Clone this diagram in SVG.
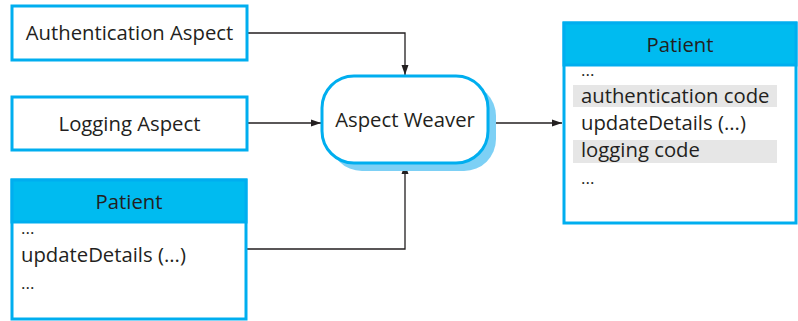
<svg xmlns="http://www.w3.org/2000/svg" width="798" height="321" viewBox="0 0 798 321">
<style>
.box{fill:#fff;stroke:#00aeef;stroke-width:3}
.hdr{fill:#00bbf0;stroke:#00aeef;stroke-width:3}
.t{font-family:"Open Sans","Liberation Sans",sans-serif;font-size:20.3px;fill:#231f20}
.d{font-size:17px}
.c{text-anchor:middle}
.hl{fill:#e6e6e6}
.ln{fill:none;stroke:#231f20;stroke-width:1.3}
</style>
<defs>
<marker id="ah" viewBox="0 0 10 10" refX="10" refY="5" markerWidth="10" markerHeight="10" markerUnits="userSpaceOnUse" orient="auto">
<path d="M0,1.5 L10,5 L0,8.5 z" fill="#231f20"/>
</marker>
</defs>
<g id="connectors">
<path class="ln" d="M247,33 H405 V75" marker-end="url(#ah)"/>
<path class="ln" d="M247,123 H321" marker-end="url(#ah)"/>
<path class="ln" d="M247,249 H405 V164" marker-end="url(#ah)"/>
<path class="ln" d="M488,123 H562" marker-end="url(#ah)"/>
</g>
<g id="auth-aspect">
<rect class="box" x="12" y="6" width="235" height="54"/>
<text class="t c" x="129.5" y="40">Authentication Aspect</text>
</g>
<g id="logging-aspect">
<rect class="box" x="12" y="97" width="235" height="53"/>
<text class="t c" x="129.5" y="131">Logging Aspect</text>
</g>
<g id="patient-in">
<rect class="box" x="12" y="180" width="234" height="139"/>
<rect class="hdr" x="12" y="180" width="234" height="42"/>
<text class="t c" x="129" y="209">Patient</text>
<text class="t d" x="21" y="234">...</text>
<text class="t" x="21" y="262">updateDetails (...)</text>
<text class="t d" x="21" y="289">...</text>
</g>
<g id="aspect-weaver">
<rect x="330" y="84" width="166" height="87" rx="32" fill="#7dd0f5"/>
<rect class="box" x="322" y="76" width="166" height="87" rx="32"/>
<text class="t c" x="405" y="127">Aspect Weaver</text>
</g>
<g id="patient-out">
<rect class="box" x="564" y="23" width="232" height="200"/>
<rect class="hdr" x="564" y="23" width="232" height="42"/>
<text class="t c" x="680" y="52">Patient</text>
<rect class="hl" x="573" y="85" width="204" height="22"/>
<rect class="hl" x="573" y="140" width="204" height="23"/>
<text class="t d" x="581" y="76">...</text>
<text class="t" x="581" y="103">authentication code</text>
<text class="t" x="581" y="130">updateDetails (...)</text>
<text class="t" x="581" y="157">logging code</text>
<text class="t d" x="581" y="184">...</text>
</g>
</svg>
